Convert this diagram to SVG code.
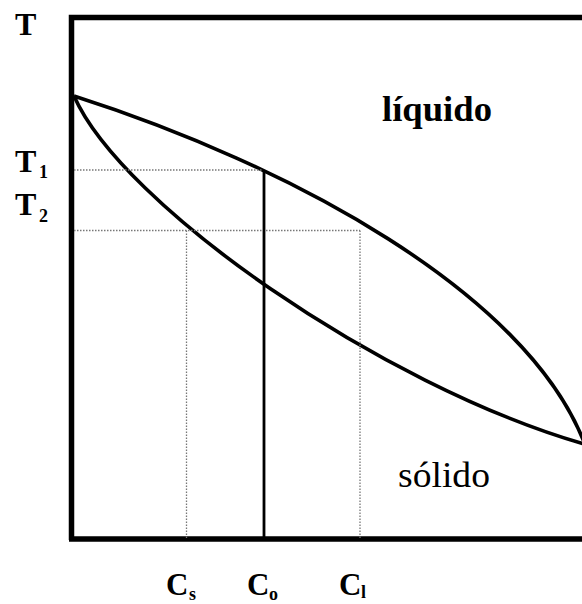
<svg xmlns="http://www.w3.org/2000/svg" width="582" height="604" viewBox="0 0 582 604">
<style>
.frame{fill:none;stroke:#000;stroke-width:5.5}
.curve{fill:none;stroke:#000;stroke-width:3.6}
.dot{fill:none;stroke:#777;stroke-width:1.3;stroke-dasharray:1.5 1.5}
.solid{fill:none;stroke:#000;stroke-width:2.8}
.lbl{font-family:"Liberation Serif","Times New Roman",serif;font-weight:bold;fill:#000}
.reg{font-family:"Liberation Serif","Times New Roman",serif;fill:#000}
</style>
<rect width="582" height="604" fill="#fff"/>
<g id="axes">
<path class="frame" d="M71.5,540 V17.5 H590 M69,539 H590"/>
</g>
<g id="connectors">
<path id="liquidus" class="curve" d="M74,96 C290,165 525,292 584,442"/>
<path id="solidus" class="curve" d="M74,96 C122,205 380,385 584,444"/>
<path class="dot" d="M74,170 H263"/>
<path class="dot" d="M74,230.5 H360"/>
<path class="dot" d="M186.5,230.5 V539"/>
<path class="dot" d="M360,230.5 V539"/>
<path class="solid" d="M264,170 V539"/>
</g>
<g id="labels">
<text class="lbl" x="15" y="35" font-size="32">T</text>
<text class="lbl" x="15" y="172" font-size="32">T</text>
<text class="lbl" x="39" y="178" font-size="18">1</text>
<text class="lbl" x="15" y="215" font-size="32">T</text>
<text class="lbl" x="39" y="222" font-size="18">2</text>
<text class="lbl" x="382" y="121" font-size="36" textLength="110" lengthAdjust="spacingAndGlyphs">líquido</text>
<text class="reg" x="398" y="487" font-size="36" textLength="92" lengthAdjust="spacingAndGlyphs">sólido</text>
<text class="lbl" x="166" y="595" font-size="31">C</text>
<text class="lbl" x="189" y="600" font-size="18">s</text>
<text class="lbl" x="247" y="595" font-size="31">C</text>
<text class="lbl" x="269" y="600" font-size="18">o</text>
<text class="lbl" x="339" y="595" font-size="31">C</text>
<text class="lbl" x="361" y="598" font-size="18">l</text>
</g>
</svg>
